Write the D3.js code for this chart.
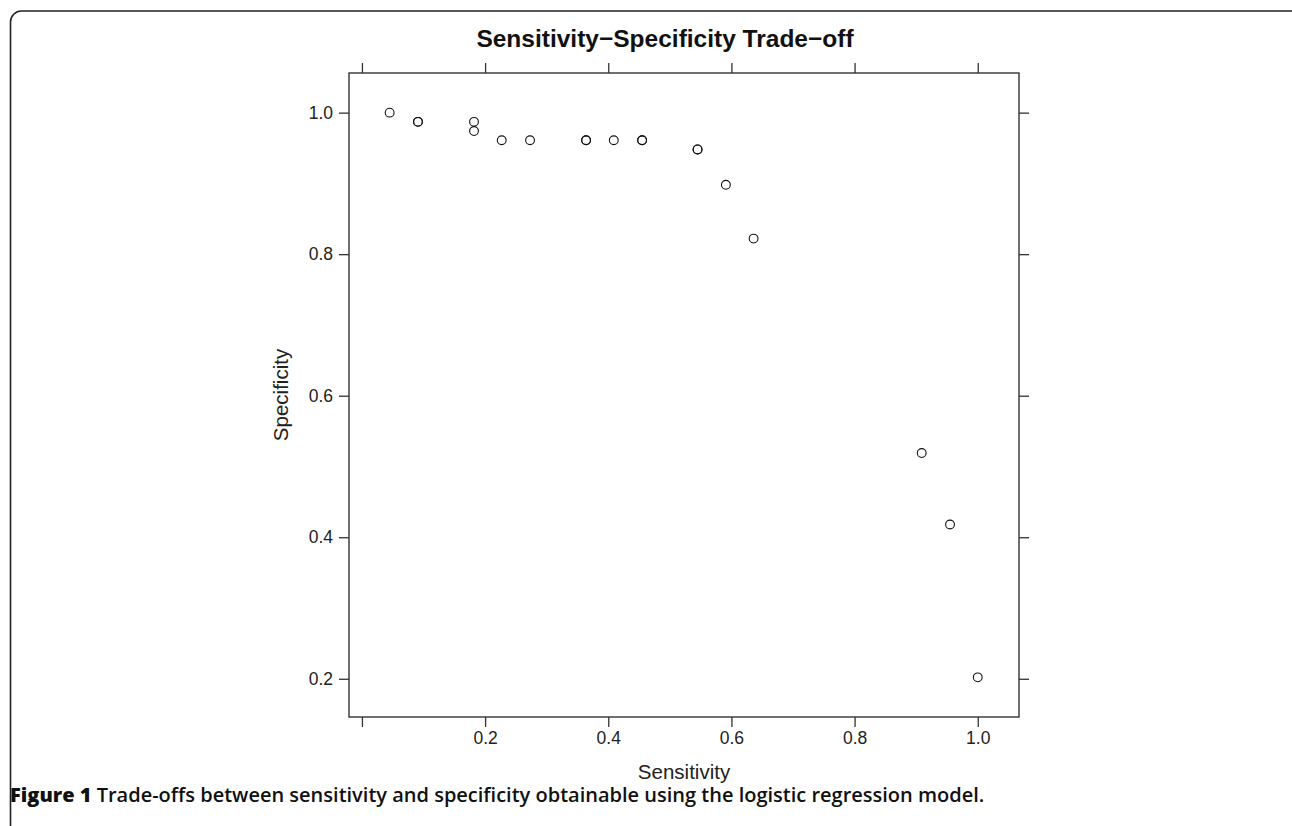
<!DOCTYPE html>
<html>
<head>
<meta charset="utf-8">
<script src="https://cdn.jsdelivr.net/npm/d3@7"></script>
<style>
  body { margin: 0; background: #fff; }
  svg { display: block; }
</style>
</head>
<body>
<div id="chart"></div>
<script>
// sensitivity / specificity pairs (repeats = overplotted points)
var sensitivity = [0.045, 0.091, 0.091, 0.182, 0.182, 0.227, 0.273, 0.364, 0.364, 0.409, 0.455, 0.455, 0.545, 0.545, 0.591, 0.636, 0.909, 0.955, 1.0];
var specificity = [1.0, 0.987, 0.987, 0.987, 0.974, 0.961, 0.961, 0.961, 0.961, 0.961, 0.961, 0.961, 0.948, 0.948, 0.898, 0.822, 0.519, 0.418, 0.202];
var xTicks = [0, 0.2, 0.4, 0.6, 0.8, 1.0];
var xTickLabels = ['', '0.2', '0.4', '0.6', '0.8', '1.0'];
var yTicks = [0.2, 0.4, 0.6, 0.8, 1.0];

var width = 1292;
var height = 826;

var svg = d3.select('#chart')
    .append('svg')
    .attr('width', width)
    .attr('height', height);

// outer rounded panel border
svg.append('rect')
    .attr('x', 10.5)
    .attr('y', 11)
    .attr('width', 1300)
    .attr('height', 860)
    .attr('rx', 11)
    .attr('fill', 'none')
    .attr('stroke', '#222')
    .attr('stroke-width', 1.6);

var pLeft = 349, pRight = 1019, pTop = 73, pBottom = 717;

var x = d3.scaleLinear()
    .domain([-0.021, 1.067])
    .range([pLeft, pRight]);

var y = d3.scaleLinear()
    .domain([0.146, 1.056])
    .range([pBottom, pTop]);

var font = 'Liberation Sans, Arial, sans-serif';
var axisCol = '#333';

function styleAxis(g) {
    g.select('.domain').remove();
    g.selectAll('.tick line').attr('stroke', axisCol).attr('stroke-width', 1.3);
    g.selectAll('.tick text')
        .attr('font-family', font)
        .attr('font-size', 17.5)
        .attr('fill', '#222');
}

svg.append('g')
    .attr('transform', 'translate(0,' + pBottom + ')')
    .call(d3.axisBottom(x).tickValues(xTicks).tickSize(10).tickPadding(5)
        .tickFormat((d, i) => xTickLabels[i]))
    .call(styleAxis);

svg.append('g')
    .attr('transform', 'translate(0,' + pTop + ')')
    .call(d3.axisTop(x).tickValues(xTicks).tickSize(10).tickFormat(''))
    .call(styleAxis);

svg.append('g')
    .attr('transform', 'translate(' + pLeft + ',0)')
    .call(d3.axisLeft(y).tickValues(yTicks).tickSize(10).tickPadding(6)
        .tickFormat(d3.format('.1f')))
    .call(styleAxis);

svg.append('g')
    .attr('transform', 'translate(' + pRight + ',0)')
    .call(d3.axisRight(y).tickValues(yTicks).tickSize(10).tickFormat(''))
    .call(styleAxis);

// plot frame
svg.append('rect')
    .attr('x', pLeft)
    .attr('y', pTop)
    .attr('width', pRight - pLeft)
    .attr('height', pBottom - pTop)
    .attr('fill', 'none')
    .attr('stroke', axisCol)
    .attr('stroke-width', 1.4);

svg.append('g')
    .selectAll('circle')
    .data(sensitivity)
    .enter()
    .append('circle')
    .attr('cx', (d) => x(d))
    .attr('cy', (d, i) => y(specificity[i]))
    .attr('r', 4.4)
    .attr('fill', 'none')
    .attr('stroke', '#111')
    .attr('stroke-width', 1.1);

svg.append('text')
    .attr('x', 665)
    .attr('y', 47)
    .attr('text-anchor', 'middle')
    .attr('font-family', font)
    .attr('font-weight', 'bold')
    .attr('font-size', 24.5)
    .attr('fill', '#111')
    .text('Sensitivity\u2212Specificity Trade\u2212off');

svg.append('text')
    .attr('x', (pLeft + pRight) / 2)
    .attr('y', 779)
    .attr('text-anchor', 'middle')
    .attr('font-family', font)
    .attr('font-size', 20.5)
    .attr('fill', '#222')
    .text('Sensitivity');

svg.append('text')
    .attr('transform', 'translate(288,' + ((pTop + pBottom) / 2) + ') rotate(-90)')
    .attr('text-anchor', 'middle')
    .attr('font-family', font)
    .attr('font-size', 20.5)
    .attr('fill', '#222')
    .text('Specificity');

var caption = svg.append('text')
    .attr('x', 10)
    .attr('y', 802)
    .attr('font-family', 'Open Sans, sans-serif')
    .attr('font-weight', 'bold')
    .attr('font-size', 20)
    .attr('fill', '#111');
caption.append('tspan').attr('font-weight', 800).text('Figure 1');
caption.append('tspan').attr('font-weight', 600).text(' Trade-offs between sensitivity and specificity obtainable using the logistic regression model.');
</script>
</body>
</html>
